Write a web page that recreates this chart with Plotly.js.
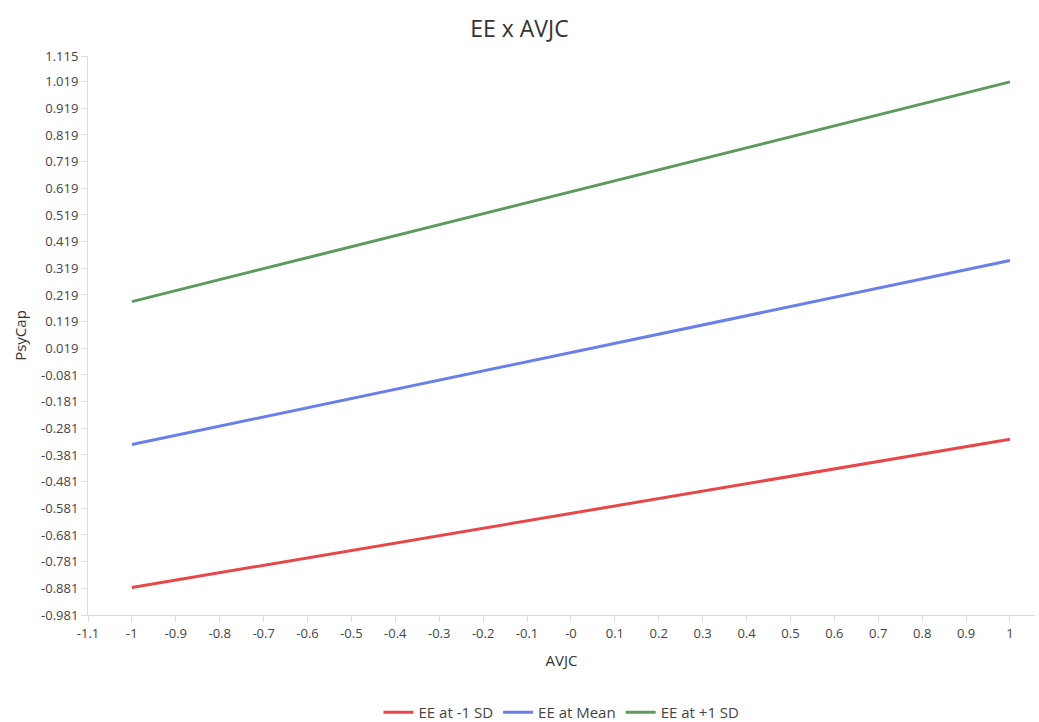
<!DOCTYPE html>
<html>
<head>
<meta charset="utf-8">
<script src="https://cdn.plot.ly/plotly-3.0.1.min.js"></script>
<style>html,body{margin:0;padding:0;background:#fff;}#chart{width:1039px;height:722px;}</style>
</head>
<body>
<div id="chart"></div>
<script>
const xValues = [-1, 1];
const seriesNames = ['EE at -1 SD', 'EE at Mean', 'EE at +1 SD'];
const lowSD = [-0.878, -0.322];
const meanSD = [-0.342, 0.348];
const highSD = [0.194, 1.018];
const seriesColors = ['#e8474a', '#6a7fe9', '#5e9a60'];
const yTickVals = [-0.981, -0.881, -0.781, -0.681, -0.581, -0.481, -0.381, -0.281, -0.181, -0.081, 0.019, 0.119, 0.219, 0.319, 0.419, 0.519, 0.619, 0.719, 0.819, 0.919, 1.019, 1.115];
const yTickText = ['-0.981', '-0.881', '-0.781', '-0.681', '-0.581', '-0.481', '-0.381', '-0.281', '-0.181', '-0.081', '0.019', '0.119', '0.219', '0.319', '0.419', '0.519', '0.619', '0.719', '0.819', '0.919', '1.019', '1.115'];
const xTickVals = [-1.1, -1, -0.9, -0.8, -0.7, -0.6, -0.5, -0.4, -0.3, -0.2, -0.1, 0, 0.1, 0.2, 0.3, 0.4, 0.5, 0.6, 0.7, 0.8, 0.9, 1];
const xTickText = ['-1.1', '-1', '-0.9', '-0.8', '-0.7', '-0.6', '-0.5', '-0.4', '-0.3', '-0.2', '-0.1', '-0', '0.1', '0.2', '0.3', '0.4', '0.5', '0.6', '0.7', '0.8', '0.9', '1'];

const allSeries = [lowSD, meanSD, highSD];
const traces = allSeries.map((ys, i) => ({
  x: xValues, y: ys, type: 'scatter', mode: 'lines', name: seriesNames[i],
  line: {color: seriesColors[i], width: 3}
}));

const font = {family: '"Open Sans", "Noto Sans", sans-serif', color: '#444', size: 13};
const layout = {
  width: 1039, height: 722,
  margin: {l: 88, r: 4, t: 56, b: 107, autoexpand: false},
  paper_bgcolor: '#fff', plot_bgcolor: '#fff',
  font: font,
  title: {text: 'EE x AVJC', x: 0.5, xanchor: 'center', y: 0.96, yanchor: 'middle', font: {family: font.family, size: 23, color: '#333'}},
  xaxis: {
    range: [-1.1, 1.057], tickvals: xTickVals, ticktext: xTickText,
    showgrid: false, zeroline: false, showline: true, linecolor: '#ddd', linewidth: 1,
    ticks: 'outside', ticklen: 6, tickcolor: '#ddd', tickfont: {size: 13, color: '#444'},
    title: {text: 'AVJC', font: {size: 15, color: '#333'}, standoff: 14}
  },
  yaxis: {
    range: [-0.981, 1.115], tickvals: yTickVals, ticktext: yTickText,
    showgrid: false, zeroline: false, showline: true, linecolor: '#ddd', linewidth: 1,
    ticks: 'outside', ticklen: 6, tickcolor: '#ddd', tickfont: {size: 13, color: '#444'},
    title: {text: 'PsyCap', font: {size: 15, color: '#333'}, standoff: 10}
  },
  showlegend: true,
  legend: {orientation: 'h', x: 0.5, xanchor: 'center', y: -0.145, yanchor: 'top', font: {size: 15, color: '#444'}, itemwidth: 30}
};
Plotly.newPlot('chart', traces, layout, {displayModeBar: false, staticPlot: true});
</script>
</body>
</html>
